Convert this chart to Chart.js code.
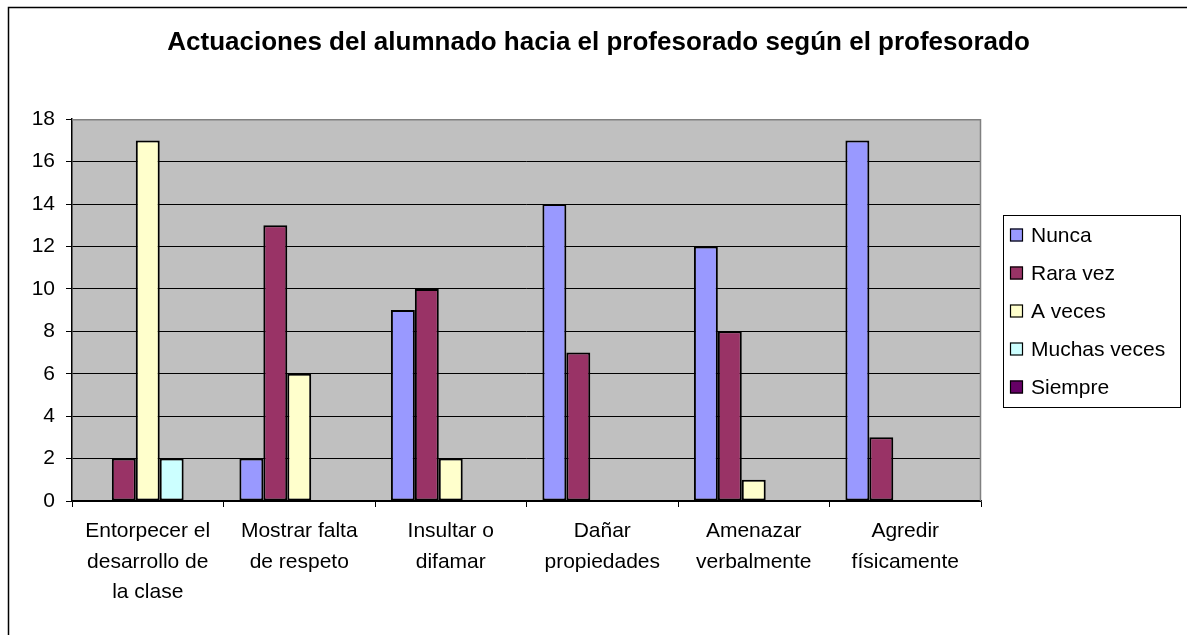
<!DOCTYPE html>
<html>
<head>
<meta charset="utf-8">
<script src="https://cdn.jsdelivr.net/npm/chart.js@4"></script>
<style>
html,body{margin:0;padding:0;background:#fff;}
canvas{display:block;}
</style>
</head>
<body>
<canvas id="c" width="1187" height="635"></canvas>
<script>
const chartTitle = "Actuaciones del alumnado hacia el profesorado según el profesorado";
const categories = [
  ["Entorpecer el", "desarrollo de", "la clase"],
  ["Mostrar falta", "de respeto"],
  ["Insultar o", "difamar"],
  ["Dañar", "propiedades"],
  ["Amenazar", "verbalmente"],
  ["Agredir", "físicamente"]
];
const seriesNames = ["Nunca", "Rara vez", "A veces", "Muchas veces", "Siempre"];
const nunca       = [0, 2, 9, 14, 12, 17];
const raraVez     = [2, 13, 10, 7, 8, 3];
const aVeces      = [17, 6, 2, 0, 1, 0];
const muchasVeces = [2, 0, 0, 0, 0, 0];
const siempre     = [0, 0, 0, 0, 0, 0];
const seriesColors = ["#9999FF", "#993366", "#FFFFCC", "#CCFFFF", "#660066"];
const yMin = 0, yMax = 18, yStep = 2;

const FONT = "'Liberation Sans', Arial, sans-serif";
const seriesValues = [nunca, raraVez, aVeces, muchasVeces, siempre];

const datasets = seriesNames.map((name, i) => ({
  label: name,
  data: seriesValues[i],
  backgroundColor: seriesColors[i],
  borderColor: "#000",
  borderWidth: 2,
  borderSkipped: false,
  categoryPercentage: 0.79,
  barPercentage: 1.0
}));

const framePlugin = {
  id: "frame",
  beforeDraw(chart) {
    const ctx = chart.ctx;
    const a = chart.chartArea;
    ctx.save();
    ctx.fillStyle = "#fff";
    ctx.fillRect(0, 0, chart.width, chart.height);
    ctx.strokeStyle = "#000";
    ctx.lineWidth = 1.5;
    ctx.beginPath();
    ctx.moveTo(8.5, chart.height);
    ctx.lineTo(8.5, 7.5);
    ctx.lineTo(chart.width, 7.5);
    ctx.stroke();
    ctx.fillStyle = "#C0C0C0";
    ctx.fillRect(a.left, a.top, a.right - a.left, a.bottom - a.top);
    ctx.restore();
  },
  afterDraw(chart) {
    const ctx = chart.ctx;
    const a = chart.chartArea;
    ctx.save();
    ctx.strokeStyle = "#808080";
    ctx.lineWidth = 1.5;
    ctx.beginPath();
    ctx.moveTo(a.left, a.top + 0.5);
    ctx.lineTo(a.right - 0.5, a.top + 0.5);
    ctx.lineTo(a.right - 0.5, a.bottom);
    ctx.stroke();
    const lx = 1003.5, ly = 215.5, lw = 177, lh = 192;
    ctx.strokeStyle = "#000";
    ctx.lineWidth = 1;
    ctx.strokeRect(lx, ly, lw, lh);
    ctx.font = "21px " + FONT;
    ctx.textBaseline = "middle";
    ctx.textAlign = "left";
    chart.data.datasets.forEach((ds, i) => {
      const cy = 235 + i * 38;
      ctx.fillStyle = ds.backgroundColor;
      ctx.fillRect(1010, cy - 6.5, 13, 13);
      ctx.strokeStyle = "#000";
      ctx.lineWidth = 1.2;
      ctx.strokeRect(1010.5, cy - 6, 12, 12);
      ctx.fillStyle = "#000";
      ctx.fillText(ds.label, 1031, cy + 1);
    });
    ctx.restore();
  }
};

new Chart(document.getElementById("c"), {
  type: "bar",
  data: { labels: categories, datasets: datasets },
  options: {
    responsive: false,
    animation: false,
    devicePixelRatio: 1,
    layout: { padding: { left: 10, right: 0, top: 0, bottom: 0 } },
    plugins: {
      legend: { display: false },
      tooltip: { enabled: false },
      title: {
        display: true,
        text: chartTitle,
        color: "#000",
        font: { family: FONT, size: 26, weight: "bold", lineHeight: 1.2 },
        padding: { top: 27, bottom: 61 }
      }
    },
    scales: {
      x: {
        type: "category",
        offset: true,
        grid: { display: true, offset: true, drawOnChartArea: false, drawTicks: true, tickLength: 6, color: "#000", lineWidth: 1 },
        border: { display: true, color: "#000", width: 1.5 },
        ticks: {
          color: "#000",
          font: { family: FONT, size: 21, lineHeight: "30.5px" },
          padding: 9,
          maxRotation: 0,
          minRotation: 0,
          autoSkip: false
        },
        afterFit(s) { s.height = 134; }
      },
      y: {
        type: "linear",
        position: "left",
        min: yMin,
        max: yMax,
        grid: { color: "#000", lineWidth: 1, tickLength: 6, drawTicks: true },
        border: { display: true, color: "#000", width: 1.5 },
        ticks: {
          stepSize: yStep,
          color: "#000",
          font: { family: FONT, size: 21 },
          padding: 11
        },
        afterFit(s) { s.width = 62; }
      },
      yR: {
        type: "linear",
        position: "right",
        display: true,
        grid: { display: false, drawTicks: false },
        border: { display: false },
        ticks: { display: false },
        afterFit(s) { s.width = 206; }
      }
    }
  },
  plugins: [framePlugin]
});
</script>
</body>
</html>
